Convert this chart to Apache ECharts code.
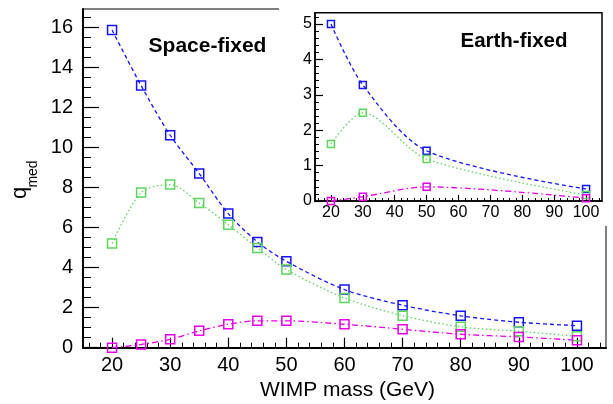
<!DOCTYPE html>
<html>
<head>
<meta charset="utf-8">
<script src="https://cdn.jsdelivr.net/npm/echarts@6/dist/echarts.min.js"></script>
<style>
html,body{margin:0;padding:0;background:#fff;}
#c{width:613px;height:404px;}
</style>
</head>
<body>
<div id="c"></div>
<script>
// ---- data ----
const masses = [20, 25, 30, 35, 40, 45, 50, 60, 70, 80, 90, 100];
const spaceBlue = [15.85, 13.08, 10.6, 8.69, 6.69, 5.28, 4.31, 2.9, 2.12, 1.59, 1.27, 1.1];
const spaceGreen = [5.2, 7.74, 8.14, 7.22, 6.14, 4.98, 3.9, 2.48, 1.6, 1.04, 0.82, 0.57];
const spaceMagenta = [0, 0.16, 0.42, 0.84, 1.17, 1.34, 1.34, 1.17, 0.92, 0.67, 0.54, 0.37];

const earthMasses = [20, 30, 50, 100];
const earthBlue = [5.0, 3.28, 1.42, 0.34];
const earthGreen = [1.61, 2.49, 1.19, 0.17];
const earthMagenta = [0, 0.12, 0.4, 0.08];

const xTickLabels = [20, 30, 40, 50, 60, 70, 80, 90, 100];
const mainYTickLabels = [0, 2, 4, 6, 8, 10, 12, 14, 16];
const insetYTickLabels = [0, 1, 2, 3, 4, 5];

// ---- helpers ----
function minorTicks(from, to, step, majorStep) {
  const out = [];
  for (let v = from; v <= to + 1e-9; v += step) {
    const r = Math.round(v * 1000) / 1000;
    if (Math.abs(r / majorStep - Math.round(r / majorStep)) > 1e-6) out.push(r);
  }
  return out;
}
function pairs(xs, ys) { return xs.map((x, i) => [x, ys[i]]); }

const BLUE = '#1414ff', GREEN = '#5cd65c', MAG = '#e800e8';
const FONT = '"Liberation Sans", Arial, Helvetica, sans-serif';

function lineSeries(name, xs, ys, color, dash, xi, yi, size, z) {
  return {
    type: 'line', name: name, xAxisIndex: xi, yAxisIndex: yi,
    data: pairs(xs, ys), smooth: 0.3, clip: false, z: z,
    symbol: 'rect', symbolSize: size,
    lineStyle: { color: color, width: 1.3, type: dash },
    itemStyle: { color: 'rgba(0,0,0,0)', borderColor: color, borderWidth: 1.5 },
    emphasis: { disabled: true }, animation: false
  };
}

const chart = echarts.init(document.getElementById('c'), null, { renderer: 'canvas' });

const mainGrid = { left: 83, top: 9, width: 523, height: 338.7, show: true, borderColor: '#000', borderWidth: 1, z: 0 };
const insetGrid = { left: 315, top: 12.7, width: 287, height: 188.3, show: true, borderColor: '#000', borderWidth: 1.5, backgroundColor: '#fff', z: 2 };

function xMajor(grid, min, max, tickLen, fontSize, margin, lineW, z) {
  return {
    type: 'value', gridIndex: grid, min: min, max: max, position: 'bottom', z: z,
    axisLine: { show: true, onZero: false, lineStyle: { color: '#000', width: lineW } },
    axisTick: { show: true, inside: true, length: tickLen, customValues: xTickLabels, lineStyle: { color: '#000', width: 1.2 } },
    axisLabel: { show: true, customValues: xTickLabels, color: '#000', fontSize: fontSize, fontFamily: FONT, margin: margin },
    splitLine: { show: false }
  };
}
function xMinor(grid, min, max, tickLen, z) {
  return {
    type: 'value', gridIndex: grid, min: min, max: max, position: 'bottom', z: z,
    axisLine: { show: false, onZero: false },
    axisTick: { show: true, inside: true, length: tickLen, customValues: minorTicks(16, 104, 2, 10), lineStyle: { color: '#000', width: 1 } },
    axisLabel: { show: false }, splitLine: { show: false }
  };
}
function yMajor(grid, min, max, ticks, tickLen, fontSize, margin, lineW, z) {
  return {
    type: 'value', gridIndex: grid, min: min, max: max, position: 'left', z: z,
    axisLine: { show: true, onZero: false, lineStyle: { color: '#000', width: lineW } },
    axisTick: { show: true, inside: true, length: tickLen, customValues: ticks, lineStyle: { color: '#000', width: 1.2 } },
    axisLabel: { show: true, customValues: ticks, color: '#000', fontSize: fontSize, fontFamily: FONT, margin: margin },
    splitLine: { show: false }
  };
}
function yMinor(grid, min, max, ticks, tickLen, z) {
  return {
    type: 'value', gridIndex: grid, min: min, max: max, position: 'left', z: z,
    axisLine: { show: false, onZero: false },
    axisTick: { show: true, inside: true, length: tickLen, customValues: ticks, lineStyle: { color: '#000', width: 1 } },
    axisLabel: { show: false }, splitLine: { show: false }
  };
}

const option = {
  animation: false,
  backgroundColor: '#fff',
  grid: [mainGrid, insetGrid],
  xAxis: [
    xMajor(0, 15, 105, 10, 20, 8, 2, 1),
    xMinor(0, 15, 105, 5, 1),
    xMajor(1, 15, 105, 6, 16, 4, 1.5, 3),
    xMinor(1, 15, 105, 3, 3)
  ],
  yAxis: [
    yMajor(0, 0, 16.9, mainYTickLabels, 16, 20, 10, 2, 1),
    yMinor(0, 0, 16.9, minorTicks(0.5, 16.5, 0.5, 2), 8, 1),
    yMajor(1, 0, 5.32, insetYTickLabels, 8, 16, 3, 1.5, 3),
    yMinor(1, 0, 5.32, minorTicks(0.2, 5.2, 0.2, 1), 4, 3)
  ],
  graphic: [
    { type: 'rect', z: 1, zlevel: 0, silent: true,
      shape: { x: 279, y: 0, width: 334, height: 226 }, style: { fill: '#fff' } },
    { type: 'text', z: 10, x: 207.5, y: 46, silent: true,
      style: { text: 'Space-fixed', font: 'bold 21px ' + FONT, fill: '#000', textAlign: 'center', textVerticalAlign: 'middle' } },
    { type: 'text', z: 10, x: 514, y: 41.7, silent: true,
      style: { text: 'Earth-fixed', font: 'bold 20.5px ' + FONT, fill: '#000', textAlign: 'center', textVerticalAlign: 'middle' } },
    { type: 'text', z: 10, x: 435, y: 390.5, silent: true,
      style: { text: 'WIMP mass (GeV)', font: '21px ' + FONT, fill: '#000', textAlign: 'right', textVerticalAlign: 'middle' } },
    { type: 'text', z: 10, x: 20, y: 193, rotation: Math.PI / 2, silent: true,
      style: { text: 'q', font: '22px ' + FONT, fill: '#000', textAlign: 'center', textVerticalAlign: 'middle' } },
    { type: 'text', z: 10, x: 33, y: 174, rotation: Math.PI / 2, silent: true,
      style: { text: 'med', font: '14px ' + FONT, fill: '#000', textAlign: 'center', textVerticalAlign: 'middle' } }
  ],
  series: [
    lineSeries('sBlue', masses, spaceBlue, BLUE, [4, 3], 0, 0, 9, 2),
    lineSeries('sGreen', masses, spaceGreen, GREEN, [1.5, 2.5], 0, 0, 9, 2),
    lineSeries('sMag', masses, spaceMagenta, MAG, [6, 3, 1.5, 3], 0, 0, 9, 2),
    lineSeries('eBlue', earthMasses, earthBlue, BLUE, [4, 3], 2, 2, 7, 5),
    lineSeries('eGreen', earthMasses, earthGreen, GREEN, [1.5, 2.5], 2, 2, 7, 5),
    lineSeries('eMag', earthMasses, earthMagenta, MAG, [6, 3, 1.5, 3], 2, 2, 7, 5)
  ]
};
chart.setOption(option);
</script>
</body>
</html>
